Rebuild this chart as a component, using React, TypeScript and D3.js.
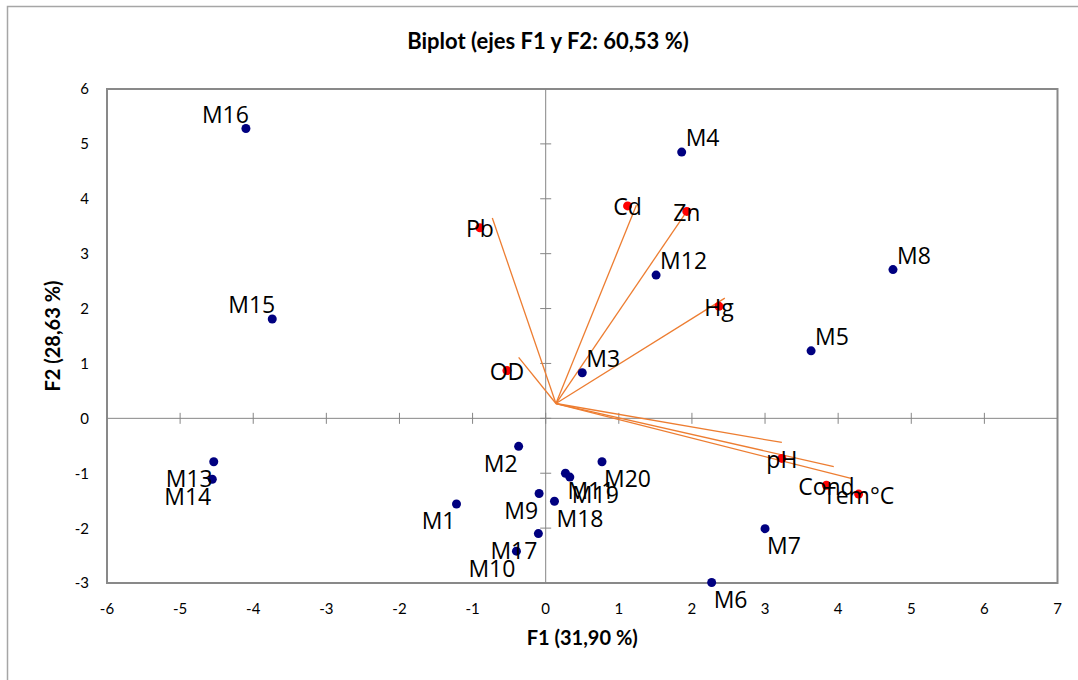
import React, { useEffect, useRef } from "react";
import * as d3 from "d3";

// observations (F1 / F2 scores)
const obsNames = ["M1", "M2", "M3", "M4", "M5", "M6", "M7", "M8", "M9", "M10",
  "M11", "M12", "M13", "M14", "M15", "M16", "M17", "M18", "M19", "M20"];
const obsF1 = [-1.22, -0.37, 0.5, 1.86, 3.63, 2.27, 3.0, 4.75, -0.09, -0.4,
  0.27, 1.51, -4.54, -4.56, -3.74, -4.1, -0.1, 0.12, 0.33, 0.77];
const obsF2 = [-1.56, -0.51, 0.83, 4.85, 1.23, -2.99, -2.01, 2.71, -1.37, -2.42,
  -1.0, 2.61, -0.79, -1.11, 1.81, 5.28, -2.1, -1.51, -1.07, -0.79];
// where each label sits around its point: ar above-right, al above-left, bl below-left, br below-right
const obsLabelSide = ["bl", "bl", "ar", "ar", "ar", "br", "br", "ar", "bl", "bl",
  "br", "ar", "bl", "bl", "al", "al", "bl", "br", "br", "br"];

// variables
const varNames = ["Pb", "Cd", "Zn", "Hg", "OD", "pH", "Cond", "Tem°C"];
const varF1 = [-0.9, 1.12, 1.93, 2.37, -0.53, 3.23, 3.84, 4.28];
const varF2 = [3.47, 3.87, 3.77, 2.04, 0.87, -0.73, -1.22, -1.38];
// vector tips
const vecF1 = [-0.73, 1.24, 1.96, 2.45, -0.37, 3.23, 3.94, 4.19];
const vecF2 = [3.65, 3.88, 3.83, 2.19, 1.11, -0.44, -0.88, -1.1];
const vecOrigin = [0.14, 0.27];

const xTicks = d3.range(-6, 8);
const yTicks = d3.range(-3, 7);

const App = () => {
  const ref = useRef<SVGSVGElement>(null);

  useEffect(() => {
    const WIDTH = 1078;
    const HEIGHT = 680;
    const PLOT = { left: 107, top: 89, right: 1057.5, bottom: 583 };
    const LABEL_FONT = "'Open Sans', sans-serif";
    const TEXT_FONT = "Lato, 'Open Sans', sans-serif";

    const x = d3.scaleLinear().domain([-6, 7]).range([PLOT.left, PLOT.right]);
    const y = d3.scaleLinear().domain([-3, 6]).range([PLOT.bottom, PLOT.top]);

    const svg = d3.select(ref.current);
    svg.selectAll("*").remove();
    svg.attr("width", WIDTH).attr("height", HEIGHT);

    svg.append("rect").attr("width", WIDTH).attr("height", HEIGHT).attr("fill", "#fff");

    /* chart border */
    svg
      .append("rect")
      .attr("x", 7.5)
      .attr("y", 6.5)
      .attr("width", 1100)
      .attr("height", 700)
      .attr("fill", "none")
      .attr("stroke", "#a6a6a6")
      .attr("stroke-width", 1.5);

    /* title */
    svg
      .append("text")
      .attr("x", 548)
      .attr("y", 49)
      .attr("text-anchor", "middle")
      .style("font-family", TEXT_FONT)
      .style("font-weight", "bold")
      .style("font-size", "22px")
      .text("Biplot (ejes F1 y F2: 60,53 %)");

    /* plot frame */
    svg
      .append("rect")
      .attr("x", PLOT.left)
      .attr("y", PLOT.top)
      .attr("width", PLOT.right - PLOT.left)
      .attr("height", PLOT.bottom - PLOT.top)
      .attr("fill", "none")
      .attr("stroke", "#898989")
      .attr("stroke-width", 2);

    /* zero axes with cross ticks */
    const axisG = svg.append("g").attr("stroke", "#868686").attr("stroke-width", 1);
    axisG.append("line").attr("x1", PLOT.left).attr("x2", PLOT.right).attr("y1", y(0)).attr("y2", y(0));
    axisG.append("line").attr("x1", x(0)).attr("x2", x(0)).attr("y1", PLOT.top).attr("y2", PLOT.bottom);
    axisG
      .selectAll(".xt")
      .data(xTicks.filter((d) => d > -6 && d < 7))
      .join("line")
      .attr("x1", (d) => x(d))
      .attr("x2", (d) => x(d))
      .attr("y1", y(0) - 5.5)
      .attr("y2", y(0) + 5.5);
    axisG
      .selectAll(".yt")
      .data(yTicks.filter((d) => d > -3 && d < 6))
      .join("line")
      .attr("y1", (d) => y(d))
      .attr("y2", (d) => y(d))
      .attr("x1", x(0) - 5.5)
      .attr("x2", x(0) + 5.5);

    /* tick labels */
    svg
      .append("g")
      .selectAll("text")
      .data(xTicks)
      .join("text")
      .attr("x", (d) => x(d))
      .attr("y", 614)
      .attr("text-anchor", "middle")
      .style("font-family", TEXT_FONT)
      .style("font-size", "15px")
      .text((d) => d);
    svg
      .append("g")
      .selectAll("text")
      .data(yTicks)
      .join("text")
      .attr("x", 89)
      .attr("y", (d) => y(d))
      .attr("dy", "0.36em")
      .attr("text-anchor", "end")
      .style("font-family", TEXT_FONT)
      .style("font-size", "15px")
      .text((d) => d);

    /* axis titles */
    svg
      .append("text")
      .attr("x", (PLOT.left + PLOT.right) / 2)
      .attr("y", 645)
      .attr("text-anchor", "middle")
      .style("font-family", TEXT_FONT)
      .style("font-weight", "bold")
      .style("font-size", "20px")
      .text("F1 (31,90 %)");
    svg
      .append("text")
      .attr("transform", `translate(60,${(PLOT.top + PLOT.bottom) / 2}) rotate(-90)`)
      .attr("text-anchor", "middle")
      .style("font-family", TEXT_FONT)
      .style("font-weight", "bold")
      .style("font-size", "20px")
      .text("F2 (28,63 %)");

    /* variable vectors */
    svg
      .append("g")
      .selectAll("line")
      .data(varNames)
      .join("line")
      .attr("x1", x(vecOrigin[0]))
      .attr("y1", y(vecOrigin[1]))
      .attr("x2", (d, i) => x(vecF1[i]))
      .attr("y2", (d, i) => y(vecF2[i]))
      .attr("stroke", "#ED7D31")
      .attr("stroke-width", 1.3);

    svg
      .append("g")
      .selectAll("circle")
      .data(varNames)
      .join("circle")
      .attr("cx", (d, i) => x(varF1[i]))
      .attr("cy", (d, i) => y(varF2[i]))
      .attr("r", 4.5)
      .attr("fill", "#FF0000");

    /* observations */
    svg
      .append("g")
      .selectAll("circle")
      .data(obsNames)
      .join("circle")
      .attr("cx", (d, i) => x(obsF1[i]))
      .attr("cy", (d, i) => y(obsF2[i]))
      .attr("r", 4.5)
      .attr("fill", "#000080");

    svg
      .append("g")
      .selectAll("text")
      .data(obsNames)
      .join("text")
      .attr("x", (d, i) => {
        const s = obsLabelSide[i];
        const px = x(obsF1[i]);
        if (s === "ar") return px + 4;
        if (s === "al") return px + 3;
        if (s === "bl") return px - 1;
        return px + 2;
      })
      .attr("y", (d, i) => {
        const s = obsLabelSide[i];
        const py = y(obsF2[i]);
        return s[0] === "a" ? py - 6 : py + 25.5;
      })
      .attr("text-anchor", (d, i) => (obsLabelSide[i][1] === "l" ? "end" : "start"))
      .style("font-family", LABEL_FONT)
      .style("font-size", "23px")
      .attr("fill", "#000")
      .text((d) => d);

    svg
      .append("g")
      .selectAll("text")
      .data(varNames)
      .join("text")
      .attr("x", (d, i) => x(varF1[i]))
      .attr("y", (d, i) => y(varF2[i]) + 9.5)
      .attr("text-anchor", "middle")
      .style("font-family", LABEL_FONT)
      .style("font-size", "23px")
      .attr("fill", "#000")
      .text((d) => d);
  }, []);

  return (
    <svg
      ref={ref}
      style={{ position: "absolute", left: 0, top: 0, display: "block" }}
    />
  );
};

export default App;
